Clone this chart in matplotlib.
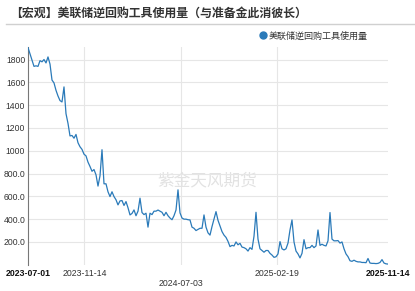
import matplotlib
matplotlib.use('Agg')
import matplotlib.pyplot as plt
from matplotlib.lines import Line2D
import pandas as pd

plt.rcParams['font.family'] = ['Liberation Sans', 'Noto Sans CJK SC', 'DejaVu Sans']

title = "【宏观】美联储逆回购工具使用量（与准备金此消彼长）"
series_name = "美联储逆回购工具使用量"
watermark = "紫金天风期货"
start_date = "2023-07-01"
end_date = "2025-11-14"

# Overnight RRP usage (billion USD), evenly spaced samples from start to end
values = [
    1905, 1850, 1794, 1740, 1745, 1740, 1790, 1780, 1800, 1770,
    1823, 1760, 1620, 1595, 1530, 1480, 1440, 1428, 1560, 1325,
    1240, 1130, 1134, 1110, 1143, 1070, 1035, 1012, 970, 955,
    900, 862, 820, 835, 789, 690, 780, 1009, 710, 710,
    640, 598, 640, 598, 570, 525, 560, 563, 520, 554,
    500, 437, 450, 481, 430, 470, 584, 458, 440, 452,
    330, 452, 440, 470, 470, 480, 470, 460, 430, 460,
    430, 410, 395, 430, 480, 657, 455, 410, 400, 400,
    395, 393, 330, 320, 300, 310, 320, 320, 437, 330,
    280, 260, 335, 400, 466, 390, 340, 291, 260, 240,
    205, 159, 170, 165, 200, 175, 188, 155, 150, 140,
    120, 150, 135, 250, 460, 225, 140, 125, 110, 125,
    125, 100, 85, 65, 70, 95, 203, 140, 130, 140,
    190, 305, 393, 200, 120, 95, 60, 100, 220, 140,
    150, 150, 170, 150, 165, 305, 170, 180, 170, 165,
    210, 458, 225, 210, 210, 212, 190, 200, 140, 95,
    71, 35, 30, 40, 30, 25, 25, 20, 20, 18,
    55, 15, 12, 12, 10, 12, 20, 45, 15, 8,
    6,
]

xtick_dates = ["2023-07-01", "2023-11-14", "2024-07-03", "2025-02-19", "2025-11-14"]
xtick_bold = [True, False, False, False, True]
xtick_low = [False, False, True, False, False]
ytick_values = [200, 400, 600, 800, 1000, 1200, 1400, 1600, 1800]
ytick_labels = ["200.0", "400.0", "600.0", "800.0", "1000", "1200", "1400", "1600", "1800"]

line_color = '#2a7ab9'

dates = pd.date_range(start_date, end_date, periods=len(values))

W, H = 415, 291
fig = plt.figure(figsize=(W / 100, H / 100), dpi=100)
ax = fig.add_axes([28 / W, 26.25 / H, 360 / W, 217.75 / H])

ax.plot(dates, values, color=line_color, lw=0.9, zorder=3)
ax.set_xlim(pd.Timestamp(start_date), pd.Timestamp(end_date))
ax.set_ylim(0, 1910)

# grid
ax.set_yticks(ytick_values)
ax.set_yticklabels(ytick_labels, fontsize=6.2, color='#333333')
ax.tick_params(axis='y', length=0, pad=2)
ax.grid(axis='y', color='#e6e6e6', lw=0.8, zorder=0)
for d in xtick_dates[1:-1]:
    ax.axvline(pd.Timestamp(d), color='#e6e6e6', lw=0.8, zorder=0)

ax.set_xticks([])
for d, b, low in zip(xtick_dates, xtick_bold, xtick_low):
    ax.annotate(d, xy=(pd.Timestamp(d), 0), xycoords=('data', 'axes fraction'),
                xytext=(0, -13.2 if low else -6.3), textcoords='offset points',
                ha='center', va='center', fontsize=6.3,
                fontweight='bold' if b else 'normal',
                color='#111111' if b else '#333333', annotation_clip=False)

for s in ['top', 'right', 'bottom']:
    ax.spines[s].set_visible(False)
ax.spines['left'].set_color('#777777')
ax.spines['left'].set_linewidth(0.8)

# watermark
ax.text(0.4986, 0.387, watermark, transform=ax.transAxes, fontsize=12,
        color='#e2e2e2', ha='center', va='center', zorder=1)

# title and separator
fig.text(10 / W, 1 - 14 / H, title, fontsize=8.6, fontweight='bold',
         color='#333333', ha='left', va='center')
fig.add_artist(Line2D([6 / W, 1], [1 - 24 / H, 1 - 24 / H], color='#d0d0d0', lw=1))

# legend
h = Line2D([], [], marker='o', ls='none', color=line_color, markersize=5)
fig.legend(handles=[h], labels=[series_name], loc='center left',
           bbox_to_anchor=(259 / W, 1 - 36 / H), frameon=False, fontsize=6.5,
           handlelength=0.8, handletextpad=0.3, borderaxespad=0, borderpad=0,
           labelcolor='#333333')

fig.savefig('out.png', dpi=100)
